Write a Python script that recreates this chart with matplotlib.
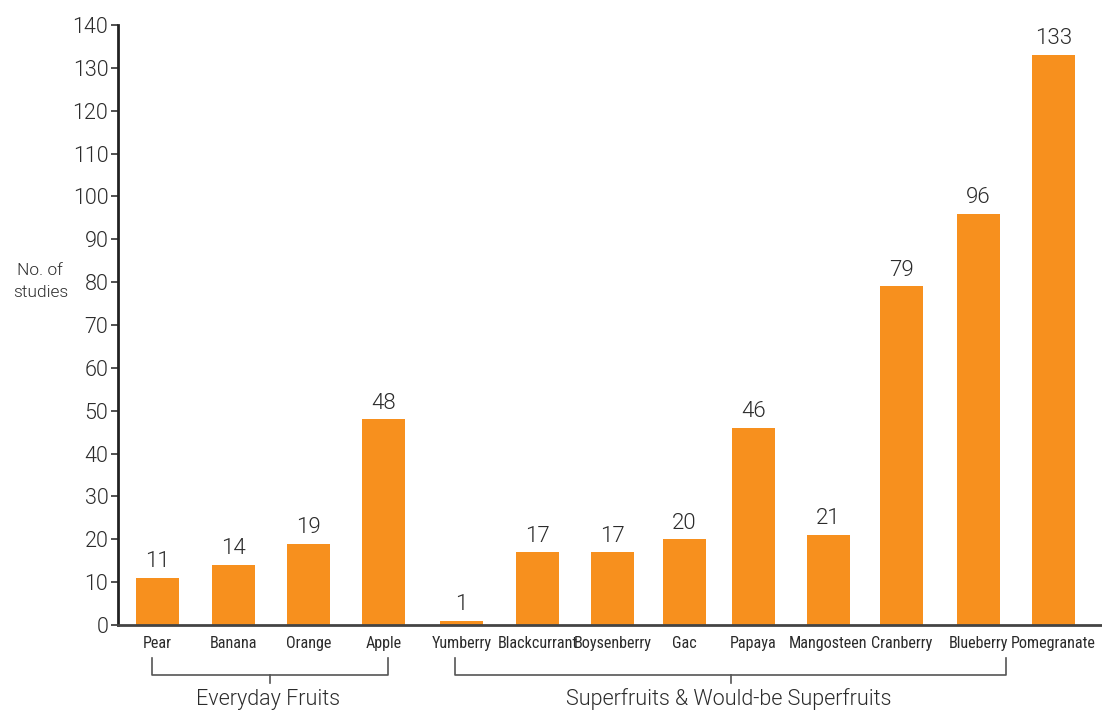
import matplotlib
matplotlib.use("Agg")
import matplotlib.pyplot as plt

plt.rcParams["font.family"] = ["Roboto", "DejaVu Sans"]

# 数据
fruits = ["Pear", "Banana", "Orange", "Apple",
          "Yumberry", "Blackcurrant", "Boysenberry", "Gac", "Papaya",
          "Mangosteen", "Cranberry", "Blueberry", "Pomegranate"]
studies = [11, 14, 19, 48, 1, 17, 17, 20, 46, 21, 79, 96, 133]
groups = ["Everyday Fruits", "Superfruits & Would-be Superfruits"]

# 版面 (像素坐标)
bar_x = [157.5, 233.5, 308.5, 383.5, 461.5, 537.5, 612.5, 684.5, 753.5,
         828.5, 901.5, 978.5, 1053.5]
bar_w = 43
ORANGE = "#F7901E"
TXT = "#2b2b2b"
LIGHT = 300

W, H = 1102, 711
fig = plt.figure(figsize=(W / 100, H / 100), dpi=100)
ax = fig.add_axes([118 / W, (H - 625) / H, (W - 118) / W, 600 / H])
ax.set_xlim(118, W)
ax.set_ylim(0, 140)

ax.bar(bar_x, studies, width=bar_w, color=ORANGE, zorder=2)
for x, v in zip(bar_x, studies):
    ax.text(x, v + 1.3, str(v), ha="center", va="bottom", fontsize=16,
            color=TXT, fontweight=LIGHT)

ax.set_yticks(range(0, 141, 10))
ax.tick_params(axis="y", direction="out", length=5, width=1.2, color="#333",
               labelsize=15.5, labelcolor=TXT, pad=2)
for lab in ax.get_yticklabels():
    lab.set_fontweight(LIGHT)
ax.set_xticks(bar_x)
ax.set_xticklabels(fruits)
ax.tick_params(axis="x", length=0, pad=8)
for lab in ax.get_xticklabels():
    lab.set_family(["Roboto Condensed", "DejaVu Sans"])
    lab.set_fontsize(11.6)
    lab.set_color(TXT)

for s in ["top", "right"]:
    ax.spines[s].set_visible(False)
ax.spines["left"].set_linewidth(2)
ax.spines["left"].set_color("#222")
ax.spines["bottom"].set_linewidth(2)
ax.spines["bottom"].set_color("#444")

ax.text(-0.079, 0.573, "No. of\nstudies", transform=ax.transAxes, ha="center",
        va="center", fontsize=12.5, color=TXT, linespacing=1.55,
        fontweight=LIGHT)

# 分组括号
def to_fig(px, py):
    return px / W, 1 - py / H

def bracket(x0, x1, label):
    xm = (x0 + x1) / 2
    pts = [to_fig(x0, 658), to_fig(x0, 675), to_fig(x1, 675), to_fig(x1, 658)]
    fig.add_artist(plt.Line2D([p[0] for p in pts], [p[1] for p in pts],
                              color="#555", lw=1.2))
    a, b = to_fig(xm, 675), to_fig(xm, 683)
    fig.add_artist(plt.Line2D([a[0], b[0]], [a[1], b[1]], color="#555", lw=1.2))
    tx, ty = to_fig(xm - 2, 699)
    fig.text(tx, ty, label, ha="center", va="center", fontsize=15.5, color=TXT,
             fontweight=LIGHT)

bracket(152, 388, groups[0])
bracket(455, 1006, groups[1])

fig.savefig("out.png", dpi=100, facecolor="white")
